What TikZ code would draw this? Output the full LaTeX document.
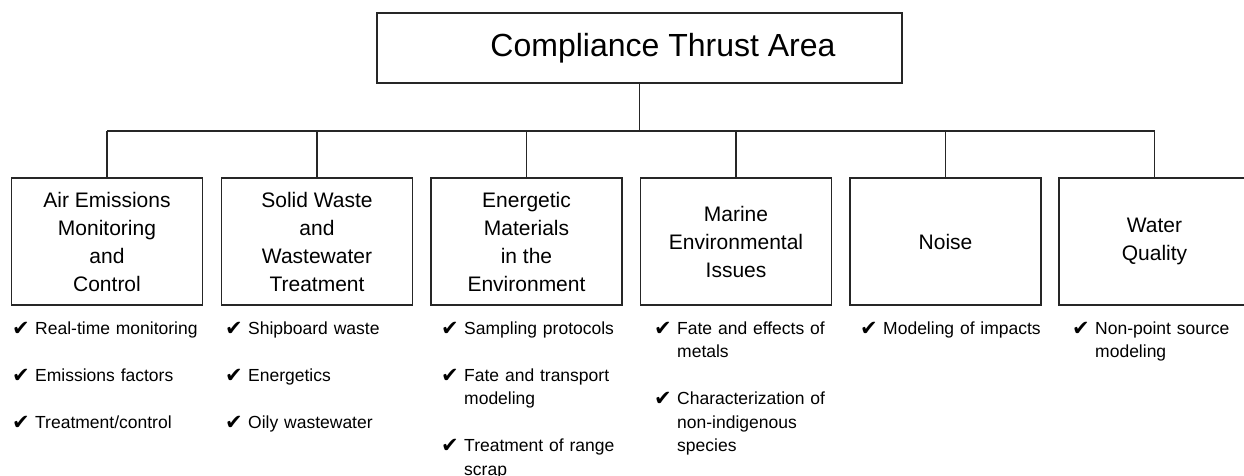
\documentclass[tikz,border=0pt]{standalone}
\usepackage{fontspec}
\setmainfont{Liberation Sans}
\newfontfamily\symfont{DejaVu Sans}
\newcommand\ckitem[4]{%
  \node[chk] (c#1) at (#2,{335+#3*23.5}) {\symfont ✔};
  \node[itm] (t#1) at (#2+23,{334+#3*23.5}) {#4};
}
\begin{document}
\begin{tikzpicture}[x=1pt,y=-1pt,
  line/.style={draw=black!85, line width=1.7pt},
  topbox/.style={line, minimum width=525pt, minimum height=70pt, inner sep=0pt,
    font=\fontsize{32}{38}\selectfont},
  box/.style={line, minimum width=191pt, minimum height=127pt, inner sep=0pt,
    align=center, font=\fontsize{21}{28}\selectfont},
  chk/.style={anchor=base west, inner sep=0pt, font=\fontsize{21}{24}\selectfont},
  itm/.style={anchor=base west, inner sep=0pt, text width=200pt, align=left,
    font=\fontsize{17.5}{23.5}\selectfont},
]
\useasboundingbox (0,0) rectangle (1244,476);
\clip (0,0) rectangle (1244,476);

\node[topbox] (top) at (639.5,48) {\hspace*{47pt}Compliance Thrust Area};

\node[box] (b1) at (107,241.5) {Air Emissions\\Monitoring\\and\\Control};
\node[box] (b2) at (317,241.5) {Solid Waste\\and\\Wastewater\\Treatment};
\node[box] (b3) at (526.5,241.5) {Energetic\\Materials\\in the\\Environment};
\node[box] (b4) at (736,241.5) {Marine\\Environmental\\Issues};
\node[box] (b5) at (945.5,241.5) {Noise};
\node[box] (b6) at (1154.5,241.5) {Water\\Quality};

\coordinate (bus) at (635,131);
\draw[line] (top.south) -- (top.south |- bus);
\draw[line] (b1.north |- bus) -- (b6.north |- bus);
\foreach \b in {b1,b2,b3,b4,b5,b6} \draw[line] (\b.north |- bus) -- (\b.north);

\ckitem{11}{12}{0}{Real-time monitoring}
\ckitem{12}{12}{2}{Emissions factors}
\ckitem{13}{12}{4}{Treatment/control}
\ckitem{21}{225}{0}{Shipboard waste}
\ckitem{22}{225}{2}{Energetics}
\ckitem{23}{225}{4}{Oily wastewater}
\ckitem{31}{441}{0}{Sampling protocols}
\ckitem{32}{441}{2}{Fate and transport\\modeling}
\ckitem{33}{441}{5}{Treatment of range\\scrap}
\ckitem{41}{654}{0}{Fate and effects of\\metals}
\ckitem{42}{654}{3}{Characterization of\\non-indigenous\\species}
\ckitem{51}{860}{0}{Modeling of impacts}
\ckitem{61}{1072}{0}{Non-point source\\modeling}
\end{tikzpicture}
\end{document}
